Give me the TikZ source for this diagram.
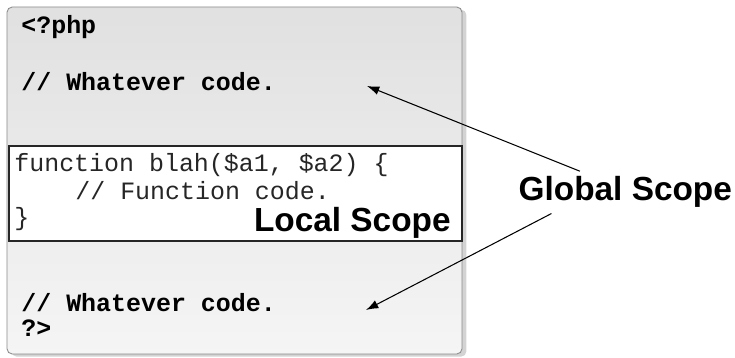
\documentclass[tikz,border=0pt]{standalone}
\usepackage{fontspec}
\setmainfont{Liberation Sans}
\setsansfont{Liberation Sans}
\setmonofont{Liberation Mono}
\usetikzlibrary{arrows.meta,shadows}

\begin{document}
\begin{tikzpicture}[
    x=0.02cm, y=-0.02cm,
    globalbox/.style={draw=black!45, line width=0.5pt, rounded corners=3pt,
        top color=black!12, bottom color=black!4,
        drop shadow={shadow xshift=2.5pt, shadow yshift=-1.5pt, opacity=0.35}},
    localbox/.style={draw=black!85, line width=0.8pt, fill=white},
    code/.style={anchor=base west, inner sep=0pt, text=black!85,
        font=\ttfamily\fontsize{14.2}{17}\selectfont},
    boldcode/.style={code, text=black, font=\ttfamily\bfseries\fontsize{14.2}{17}\selectfont},
    scopename/.style={inner sep=0pt, font=\sffamily\bfseries\fontsize{19}{22}\selectfont},
    pointer/.style={-{Latex[length=7pt,width=5pt]}, line width=0.6pt}
]
\useasboundingbox (0,0) rectangle (735,358);

% Cadres
\draw[globalbox] (7,7) rectangle (462,354);
\draw[localbox] (9,146) rectangle (462,241);

% Code global
\node[boldcode] (open) at (21,34) {<?php};
\node[boldcode] (whatever1) at (21,91) {// Whatever code.};
\node[boldcode] (whatever2) at (21,312) {// Whatever code.};
\node[boldcode] (close) at (21,337) {?>};

% Code local
\node[code] (fn1) at (14,172) {function blah(\$a1, \$a2) \{};
\node[code] (fn2) at (75,200) {// Function code.};
\node[code] (fn3) at (14,226) {\}};
\node[scopename, anchor=base east] (local) at (451,232) {Local Scope};

% Portee globale
\node[scopename, anchor=base west, inner sep=3pt] (global) at (513,201) {Global Scope};
\coordinate (tip1) at (367,86);
\coordinate (tip2) at (366,310);
\draw[pointer] (global.155) -- (tip1);
\draw[pointer] (global.196) -- (tip2);

\end{tikzpicture}
\end{document}
